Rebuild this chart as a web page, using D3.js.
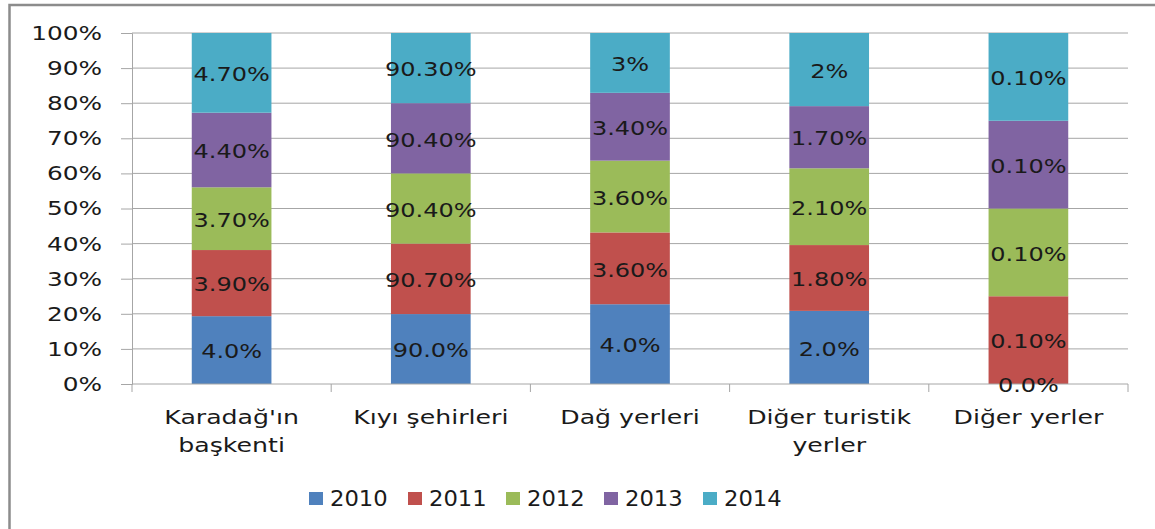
<!DOCTYPE html>
<html>
<head>
<meta charset="utf-8">
<script src="https://cdn.jsdelivr.net/npm/d3@7"></script>
<style>
  body { margin: 0; background: #fff; }
  text { font-family: "DejaVu Sans", Verdana, sans-serif; fill: #1a1a1a; }
</style>
</head>
<body>
<div id="chart-area"></div>
<script>
// categories (line-broken as in the picture)
var categories = ["Karadağ'ın başkenti", "Kıyı şehirleri", "Dağ yerleri", "Diğer turistik yerler", "Diğer yerler"];
var categoryLines = [["Karadağ'ın", "başkenti"], ["Kıyı şehirleri"], ["Dağ yerleri"], ["Diğer turistik", "yerler"], ["Diğer yerler"]];
var years = ["2010", "2011", "2012", "2013", "2014"];
var colors = ["#4F81BD", "#C0504D", "#9BBB59", "#8064A2", "#4BACC6"];

// values per year, one per category
var v2010 = [4.0, 90.0, 4.0, 2.0, 0.0];
var v2011 = [3.9, 90.7, 3.6, 1.8, 0.1];
var v2012 = [3.7, 90.4, 3.6, 2.1, 0.1];
var v2013 = [4.4, 90.4, 3.4, 1.7, 0.1];
var v2014 = [4.7, 90.3, 3.0, 2.0, 0.1];

// data labels as printed
var l2010 = ["4.0%", "90.0%", "4.0%", "2.0%", "0.0%"];
var l2011 = ["3.90%", "90.70%", "3.60%", "1.80%", "0.10%"];
var l2012 = ["3.70%", "90.40%", "3.60%", "2.10%", "0.10%"];
var l2013 = ["4.40%", "90.40%", "3.40%", "1.70%", "0.10%"];
var l2014 = ["4.70%", "90.30%", "3%", "2%", "0.10%"];

var yTicks = [0, 0.1, 0.2, 0.3, 0.4, 0.5, 0.6, 0.7, 0.8, 0.9, 1];

var series = [v2010, v2011, v2012, v2013, v2014];
var labels = [l2010, l2011, l2012, l2013, l2014];

var W = 1155, H = 529;
var margin = { top: 33, right: 27, bottom: 145, left: 132 },
    width = W - margin.left - margin.right,
    height = H - margin.top - margin.bottom;

var k = 1.2; // horizontal stretch of the text

var svg = d3.select('#chart-area')
    .append('svg')
        .attr('width', W)
        .attr('height', H);

// outer frame
svg.append('rect')
    .attr('x', 9.5)
    .attr('y', 5)
    .attr('width', W + 20)
    .attr('height', H + 20)
    .attr('fill', 'none')
    .attr('stroke', '#8c8c8c')
    .attr('stroke-width', 2.5);

var g = svg.append('g')
    .attr('transform', 'translate(' + margin.left + ',' + margin.top + ')');

var table = categories.map((c, i) => {
    var row = { cat: c, idx: i };
    years.forEach((y, j) => { row[y] = series[j][i]; });
    return row;
});

var stack = d3.stack()
    .keys(years)
    .offset(d3.stackOffsetExpand);
var stacked = stack(table);

var x = d3.scaleBand()
    .domain(categories)
    .range([0, width])
    .paddingInner(0.6)
    .paddingOuter(0.3);

var y = d3.scaleLinear()
    .domain([0, 1])
    .range([height, 0]);

// gridlines
g.selectAll('.grid')
    .data(yTicks.slice(1))
    .enter()
    .append('line')
        .attr('x1', 0)
        .attr('x2', width)
        .attr('y1', d => y(d))
        .attr('y2', d => y(d))
        .attr('stroke', '#a6a6a6')
        .attr('stroke-width', 1);

// y axis
var yAxisCall = d3.axisLeft(y)
    .tickValues(yTicks)
    .tickSize(11)
    .tickPadding(19)
    .tickFormat(d3.format('.0%'));
var yAxis = g.append('g').call(yAxisCall);
yAxis.select('.domain').attr('stroke', '#a6a6a6');
yAxis.selectAll('.tick line').attr('stroke', '#a6a6a6');
yAxis.selectAll('.tick text')
    .attr('font-family', '"DejaVu Sans", Verdana, sans-serif')
    .attr('font-size', '20px')
    .attr('fill', '#1a1a1a')
    .attr('x', -30 / 1.24)
    .attr('transform', 'scale(1.24,1)');

// bars
var layers = g.selectAll('.layer')
    .data(stacked)
    .enter()
    .append('g')
        .attr('fill', (d, i) => colors[i]);

layers.selectAll('rect')
    .data(d => d)
    .enter()
    .append('rect')
        .attr('x', d => x(d.data.cat))
        .attr('width', x.bandwidth())
        .attr('y', d => y(d[1]))
        .attr('height', d => y(d[0]) - y(d[1]));

// x axis baseline and ticks at category boundaries
var xAxis = g.append('g').attr('transform', 'translate(0,' + height + ')');
xAxis.append('line')
    .attr('x1', 0).attr('x2', width)
    .attr('stroke', '#a6a6a6');
var bounds = d3.range(categories.length + 1).map(i => i * x.step());
xAxis.selectAll('.xt')
    .data(bounds)
    .enter()
    .append('line')
        .attr('x1', d => d).attr('x2', d => d)
        .attr('y1', 0).attr('y2', 8)
        .attr('stroke', '#a6a6a6');

// data labels
stacked.forEach((layer, j) => {
    g.append('g').selectAll('text')
        .data(layer)
        .enter()
        .append('text')
            .attr('text-anchor', 'middle')
            .attr('dominant-baseline', 'central')
            .attr('font-size', '20px')
            .attr('transform', d => 'translate(' + (x(d.data.cat) + x.bandwidth() / 2) + ',' + ((y(d[0]) + y(d[1])) / 2 + 1) + ') scale(' + k + ',1)')
            .text(d => labels[j][d.data.idx]);
});

// category labels
categories.forEach((c, i) => {
    categoryLines[i].forEach((line, li) => {
        g.append('text')
            .attr('text-anchor', 'middle')
            .attr('font-size', '20px')
            .attr('transform', 'translate(' + (x(c) + x.bandwidth() / 2) + ',' + (height + 40 + li * 28) + ') scale(1.26,1)')
            .text(line);
    });
});

// legend
var legendX = [309, 408, 506, 604, 703];
var legend = svg.append('g');
years.forEach((yr, i) => {
    legend.append('rect')
        .attr('x', legendX[i])
        .attr('y', 492)
        .attr('width', 14)
        .attr('height', 13)
        .attr('fill', colors[i]);
    legend.append('text')
        .attr('transform', 'translate(' + (legendX[i] + 21) + ',506) scale(1.08,1)')
        .attr('font-size', '21px')
        .text(yr);
});
</script>
</body>
</html>
